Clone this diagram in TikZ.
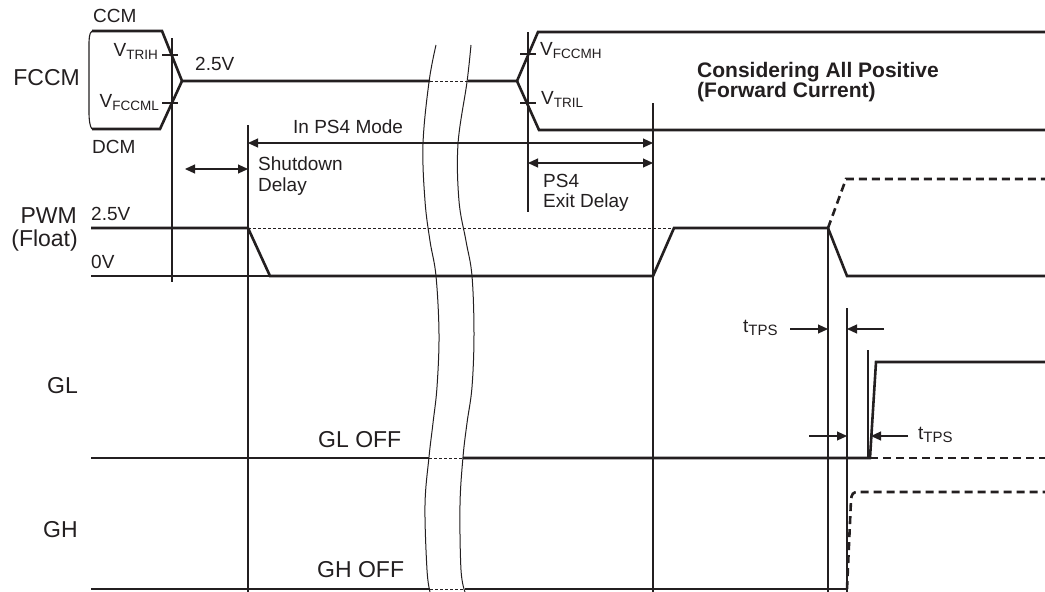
\documentclass[tikz,border=0pt]{standalone}
\usepackage{fontspec}
\setmainfont{Liberation Sans}
\usetikzlibrary{arrows.meta}
\definecolor{ink}{RGB}{35,31,32}
\newcommand{\lbsub}[2][13.5]{\raisebox{-3pt}{\fontsize{#1}{14}\selectfont #2}}
\begin{document}
\begin{tikzpicture}[x=1pt,y=-1pt,line join=miter,
  sigln/.style={line width=2.6pt,draw=ink},
  thinln/.style={line width=1.1pt,draw=ink},
  dashsig/.style={line width=2.6pt,draw=ink,dash pattern=on 8pt off 5pt},
  dotln/.style={line width=1pt,draw=ink,dash pattern=on 2.5pt off 2.5pt},
  dimarrow/.style={thinln,{Triangle[length=10pt,width=9pt]}-{Triangle[length=10pt,width=9pt]}},
  ptarrow/.style={thinln,-{Triangle[length=10pt,width=9pt]}},
  bigtxt/.style={inner sep=0pt,font=\fontsize{23}{27}\selectfont,text=ink},
  smalltxt/.style={inner sep=0pt,font=\fontsize{19}{23}\selectfont,text=ink},
  boldtxt/.style={inner sep=0pt,font=\fontsize{21}{24}\selectfont\bfseries,text=ink}]
\fill[white] (0,0) rectangle (1045,592);
\useasboundingbox (0,0) rectangle (1045,592);

% ---------- FCCM ----------
\draw[thinln] (92,31) .. controls (89,33) and (89,40) .. (89,46) -- (89,112) .. controls (89,120) and (90,127) .. (92,129);
\draw[sigln] (92,31) -- (162,31) -- (182,81) -- (430,81);
\draw[sigln] (92,129) -- (160,129) -- (182,81);
\draw[dotln] (430,81) -- (468,81);
\draw[sigln] (468,81) -- (517,81) -- (538,32) -- (1045,32);
\draw[sigln] (517,81) -- (539,130) -- (1045,130);
% ticks
\draw[thinln] (162,55) -- (178,55);
\draw[thinln] (162,103) -- (178,103);
\draw[thinln] (520,54) -- (536,54);
\draw[thinln] (520,103) -- (536,103);

% ---------- vertical markers ----------
\draw[thinln] (172,38) -- (172,282);
\draw[thinln] (248,125) -- (248,592);
\draw[thinln] (528,32) -- (528,212);
\draw[thinln] (653,103) -- (653,592);
\draw[thinln] (828,228) -- (828,592);
\draw[thinln] (847,308) -- (847,592);
\draw[thinln] (868,350) -- (868,457);

% ---------- PWM ----------
\draw[thinln] (91,276) -- (270,276);
\draw[dotln] (248,228) -- (674,228);
\draw[sigln] (91,228) -- (248,228) -- (270,276) -- (653,276) -- (674,228) -- (828,228) -- (847,276) -- (1045,276);
\draw[dashsig] (828,228) -- (846,179) -- (1045,179);

% ---------- GL ----------
\draw[sigln] (91,458) -- (429,458);
\draw[dotln] (429,458) -- (463,458);
\draw[sigln] (463,458) -- (870,458) -- (876,362) -- (1045,362);
\draw[dashsig] (870,458) -- (1045,458);

% ---------- GH ----------
\draw[sigln] (91,589) -- (430,589);
\draw[dotln] (430,589) -- (465,589);
\draw[sigln] (465,589) -- (847,589);
\draw[dashsig] (847,589) -- (851,500) .. controls (851.5,494) and (853,492) .. (858,492) -- (1045,492);

% ---------- break lines ----------
\draw[thinln,line width=1pt] plot[smooth,tension=0.6] coordinates {(436,45) (429,82) (423,144) (425,201) (430,241) (436,276) (439,334) (437,387) (433,423) (429,457) (425,505) (427,570) (430,592)};
\draw[thinln,line width=1pt] plot[smooth,tension=0.6] coordinates {(471,45) (467,82) (458,144) (459,201) (466,241) (472,276) (474,334) (472,387) (467,423) (463,457) (460,505) (461,570) (465,592)};

% ---------- dimension arrows ----------
\coordinate (psL) at (248,143);
\coordinate (psR) at (653,143);
\coordinate (sdL) at (185,169);
\coordinate (sdR) at (248,169);
\coordinate (exL) at (528,163);
\coordinate (exR) at (653,163);
\coordinate (t1a) at (790,329);
\coordinate (t1b) at (828,329);
\coordinate (t2a) at (884,329);
\coordinate (t2b) at (847,329);
\coordinate (t3a) at (809,436);
\coordinate (t3b) at (847,436);
\coordinate (t4a) at (908,436);
\coordinate (t4b) at (871,436);
\draw[dimarrow] (psL) -- (psR);
\draw[dimarrow] (sdL) -- (sdR);
\draw[dimarrow] (exL) -- (exR);
\draw[ptarrow] (t1a) -- (t1b);
\draw[ptarrow] (t2a) -- (t2b);
\draw[ptarrow] (t3a) -- (t3b);
\draw[ptarrow] (t4a) -- (t4b);

% ---------- labels ----------
\node[smalltxt,anchor=base west] (ccm) at (93,22) {CCM};
\node[smalltxt,anchor=base west] (dcm) at (92,153) {DCM};
\node[bigtxt,anchor=base east] (fccm) at (80,85) {FCCM};
\node[smalltxt,anchor=base east] (vtrih) at (158,56) {V\lbsub{TRIH}};
\node[smalltxt,anchor=base east] (vfccml) at (159,107) {V\lbsub{FCCML}};
\node[smalltxt,anchor=base west] (v25a) at (195,70) {2.5V};
\node[smalltxt,anchor=base west] (vfccmh) at (540,55) {V\lbsub{FCCMH}};
\node[smalltxt,anchor=base west] (vtril) at (541,104) {V\lbsub{TRIL}};
\node[smalltxt,anchor=base west] (ps4mode) at (293,133) {In PS4 Mode};
\node[smalltxt,anchor=base west] (shut) at (258,170) {Shutdown};
\node[smalltxt,anchor=base west] (shutd) at (258,191) {Delay};
\node[smalltxt,anchor=base west] (ps4) at (543,187) {PS4};
\node[smalltxt,anchor=base west] (exitd) at (543,207) {Exit Delay};
\node[boldtxt,anchor=base west] (cons) at (697,77) {Considering All Positive};
\node[boldtxt,anchor=base west] (fwd) at (697,97) {(Forward Current)};
\node[bigtxt,anchor=base east] (pwm) at (77,223) {PWM};
\node[bigtxt,anchor=base east] (flt) at (78,246) {(Float)};
\node[smalltxt,anchor=base west] (v25b) at (91,220) {2.5V};
\node[smalltxt,anchor=base west] (v0) at (91,268) {0V};
\node[bigtxt,anchor=base west] (gl) at (47,393) {GL};
\node[bigtxt,anchor=base west] (gloff) at (318,447) {GL OFF};
\node[bigtxt,anchor=base west] (gh) at (43,537) {GH};
\node[bigtxt,anchor=base west] (ghoff) at (317,577) {GH OFF};
\node[smalltxt,anchor=base west] (ttps1) at (743,332) {t\lbsub[15]{TPS}};
\node[smalltxt,anchor=base west] (ttps2) at (918,439) {t\lbsub[15]{TPS}};
\end{tikzpicture}
\end{document}
